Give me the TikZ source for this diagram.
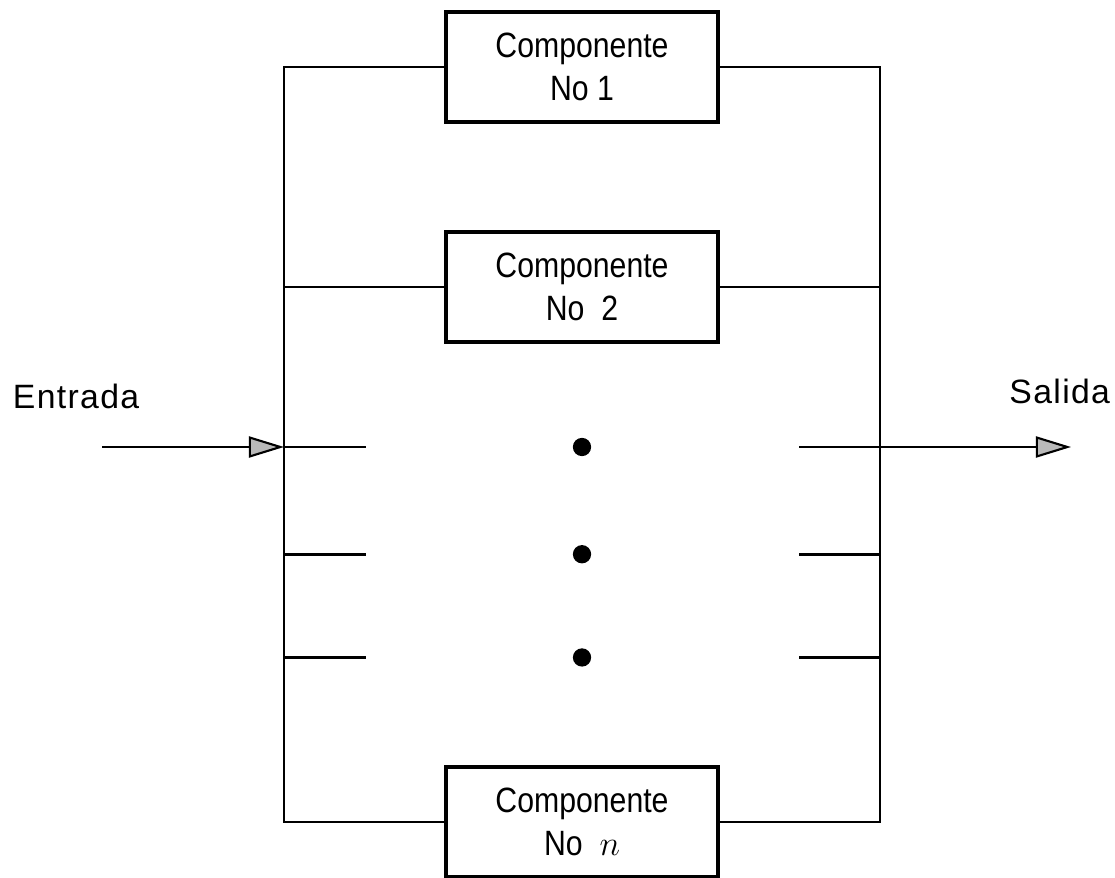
\documentclass[tikz,border=0pt]{standalone}
\usepackage{fontspec}
\setmainfont{Liberation Sans}
\newfontfamily\compfont[FakeStretch=0.86]{Liberation Sans}
\newfontfamily\etiqfont[LetterSpace=4]{Liberation Sans}
\usepackage{tikz}
\usetikzlibrary{arrows.meta, positioning, calc}

\begin{document}
\begin{tikzpicture}[
    x=0.025cm, y=-0.025cm,
    comp/.style={draw, line width=2.8pt, rectangle, minimum width=6.78cm, minimum height=2.75cm, align=center, font=\compfont\fontsize{25}{31}\selectfont},
    line/.style={draw, line width=2.1pt},
    flecha/.style={draw, line width=2.1pt, -{Triangle[length=25pt, width=15pt, fill=gray!55, line width=1.5pt]}},
    punto/.style={circle, fill=black, inner sep=0pt, minimum size=13pt},
    etiqueta/.style={font=\etiqfont\fontsize{24}{28}\selectfont}
]
    \useasboundingbox (0,0) rectangle (1115,878);

    % componentes en paralelo
    \node[comp] (c1) at (582,67) {Componente\\No 1};
    \node[comp] (c2) at (582,287) {Componente\\No\ \ 2};
    \node[comp] (cn) at (582,822) {Componente\\No\ \ $n$};

    % puntos suspensivos
    \node[punto] (d1) at (582,447) {};
    \node[punto, below=2.68cm of d1.center, anchor=center] (d2) {};
    \node[punto, below=2.58cm of d2.center, anchor=center] (d3) {};

    % barras de entrada y salida
    \coordinate (izq) at (284,0);
    \coordinate (der) at (880,0);
    \draw[line] (c1.west) -| (izq |- cn.west) -- (cn.west);
    \draw[line] (c1.east) -| (der |- cn.east) -- (cn.east);
    \draw[line] (c2.west) -- (izq |- c2.west);
    \draw[line] (c2.east) -- (der |- c2.east);

    % ramales cortos
    \foreach \d in {d1,d2,d3} {
        \draw[line] (izq |- \d) -- ++(82,0);
        \draw[line] (der |- \d) -- ++(-81,0);
    }

    % flechas
    \coordinate (ent) at (102,447);
    \coordinate (sal) at (1071,447);
    \draw[flecha] (ent) -- (izq |- ent);
    \draw[flecha] (der |- sal) -- (sal);

    \node[etiqueta, anchor=west] (lent) at (8,396) {Entrada};
    \node[etiqueta, anchor=east] (lsal) at (1115,391) {Salida};
\end{tikzpicture}
\end{document}
